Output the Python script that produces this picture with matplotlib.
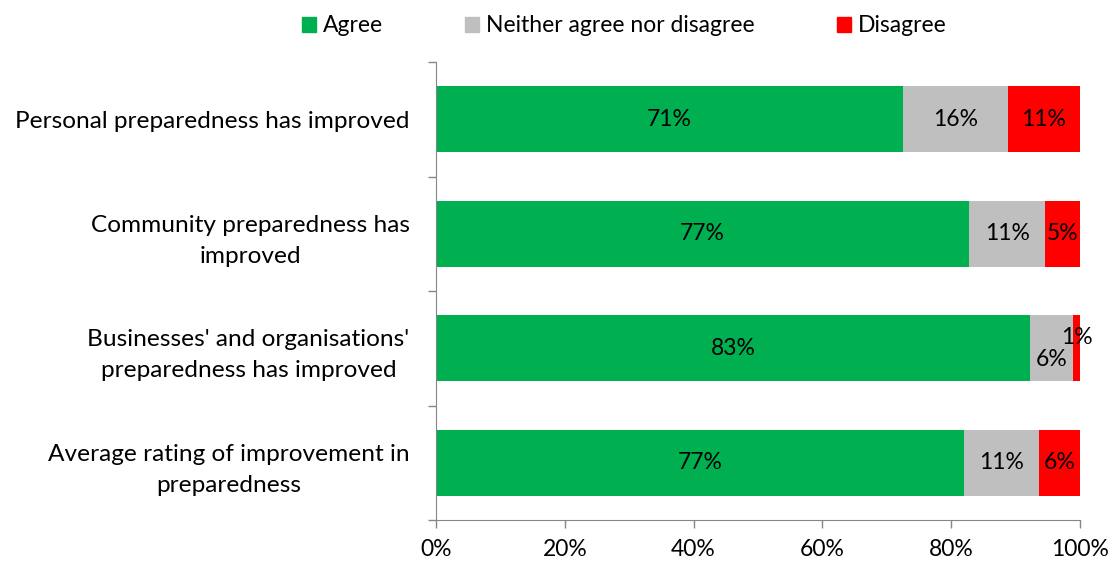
import matplotlib
matplotlib.use("Agg")
import matplotlib.pyplot as plt
from matplotlib.patches import Patch
import numpy as np

categories = [
    "Personal preparedness has improved",
    "Community preparedness has\nimproved",
    "Businesses' and organisations'\npreparedness has improved",
    "Average rating of improvement in\npreparedness",
]
series_names = ["Agree", "Neither agree nor disagree", "Disagree"]
agree = [71, 77, 83, 77]
neither = [16, 11, 6, 11]
disagree = [11, 5, 1, 6]
xtick_labels = ["0%", "20%", "40%", "60%", "80%", "100%"]

colors = ["#00B050", "#BFBFBF", "#FF0000"]
# label offsets (points) to avoid overlaps, keyed by (row, series)
label_offsets = {(2, 1): (0, -8), (2, 2): (0, 8)}

plt.rcParams['font.family'] = ['Lato', 'DejaVu Sans']
FS = 16.5

fig = plt.figure(figsize=(11.14, 5.64), dpi=100)
ax = fig.add_axes([436/1114, 1-520/564, (1080-436)/1114, (520-62)/564])

data = np.array([agree, neither, disagree], dtype=float)
totals = data.sum(axis=0)
shares = data / totals * 100
y = np.arange(len(categories))
left = np.zeros(len(categories))
for si in range(3):
    ax.barh(y, shares[si], left=left, height=0.575, color=colors[si], label=series_names[si])
    for ri in range(len(categories)):
        cx = left[ri] + shares[si][ri] / 2
        off = label_offsets.get((ri, si), (0, 0))
        ax.annotate(f"{int(data[si][ri])}%", (cx, y[ri]), xytext=off, textcoords="offset points",
                    ha="center", va="center", fontsize=FS, color="black")
    left = left + shares[si]

ax.set_xlim(0, 100)
ax.set_ylim(3.5, -0.5)
ax.set_xticks(np.linspace(0, 100, 6))
ax.set_xticklabels(xtick_labels, fontsize=FS)
ax.set_yticks(y)
ax.set_yticklabels(categories, fontsize=17.6, linespacing=1.6)
for t in ax.get_yticklabels():
    t.set_multialignment("center")
ax.set_yticks(np.arange(-0.5, 4.0, 1.0), minor=True)
ax.tick_params(axis="y", which="major", length=0, pad=19)
ax.tick_params(axis="y", which="minor", length=6, color="#868686", width=1)
ax.tick_params(axis="x", length=6, color="#868686", width=1, pad=8)
for s in ["top", "right"]:
    ax.spines[s].set_visible(False)
for s in ["left", "bottom"]:
    ax.spines[s].set_color("#868686")

handles = [Patch(color=c) for c in colors]
fig.legend(handles, series_names, loc="center", bbox_to_anchor=(624/1114, 1-26/564), ncol=3,
           frameon=False, fontsize=FS, handlelength=0.6, handleheight=0.6, handletextpad=0.3,
           columnspacing=3.6)

fig.savefig("out.png", dpi=100)
